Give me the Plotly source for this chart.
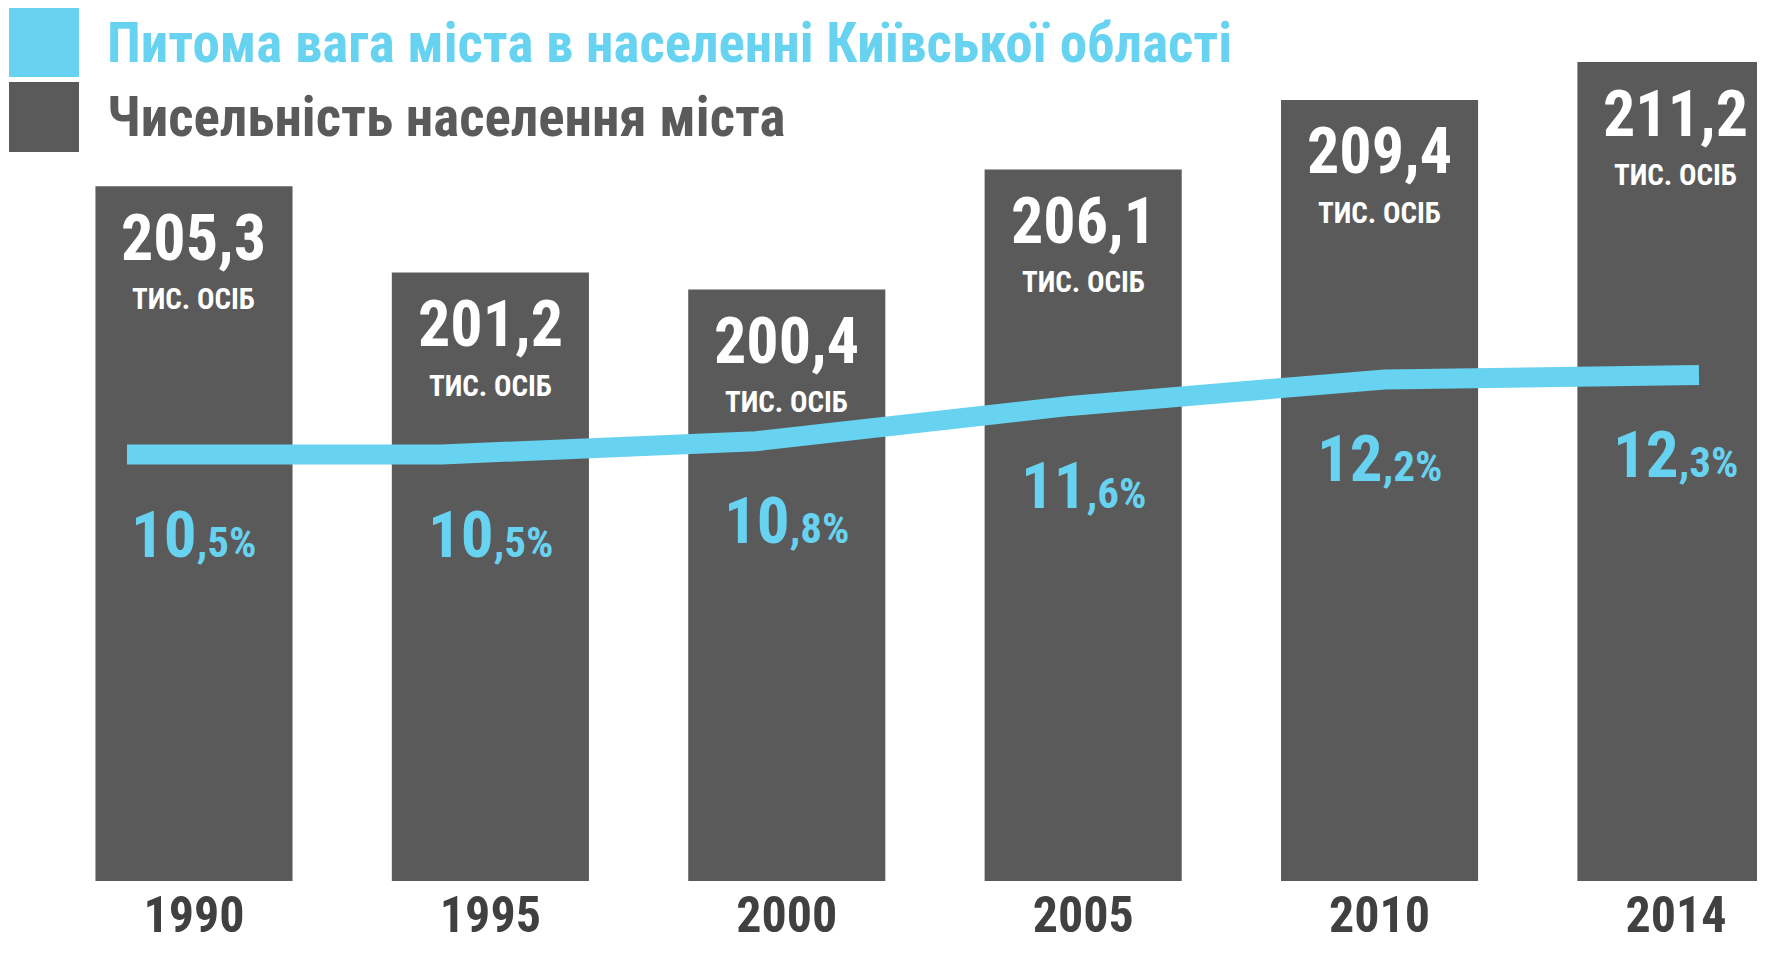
import plotly.graph_objects as go

years = ["1990", "1995", "2000", "2005", "2010", "2014"]
population = [205.3, 201.2, 200.4, 206.1, 209.4, 211.2]      # тис. осіб
share = [10.5, 10.5, 10.8, 11.6, 12.2, 12.3]                 # %
pop_labels = ["205,3", "201,2", "200,4", "206,1", "209,4", "211,2"]
share_int = ["10", "10", "10", "11", "12", "12"]
share_dec = [",5%", ",5%", ",8%", ",6%", ",2%", ",3%"]
unit_label = "ТИС. ОСІБ"
series_share = "Питома вага міста в населенні Київської області"
series_pop = "Чисельність населення міста"

# the page adds an 8px body margin, so the figure is sized to fit inside the window
W, H = 1749, 938
PLOT_H = 873
CYAN = "#67D3F0"
DARK = "#5A5A5A"
FONT = "Roboto Condensed, Liberation Sans Narrow, Roboto, sans-serif"

fig = go.Figure()
fig.add_trace(go.Bar(x=years, y=population, marker=dict(color=DARK, line=dict(width=0)),
                     width=0.665, name=series_pop, xaxis="x", yaxis="y", hoverinfo="skip"))
fig.add_trace(go.Scatter(x=years, y=share, mode="lines", line=dict(color=CYAN, width=20),
                         name=series_share, xaxis="x2", yaxis="y2", hoverinfo="skip"))

ann = []
for i, (v, lab) in enumerate(zip(population, pop_labels)):
    ann.append(dict(x=i, y=v, xref="x", yref="y", text="<b>%s</b>" % lab, showarrow=False,
                    yanchor="middle", yshift=-52,
                    font=dict(family=FONT, size=64, color="white")))
    ann.append(dict(x=i, y=v, xref="x", yref="y", text="<b>%s</b>" % unit_label, showarrow=False,
                    yanchor="middle", yshift=-113,
                    font=dict(family=FONT, size=29, color="white")))
for i, (s, a, b) in enumerate(zip(share, share_int, share_dec)):
    ann.append(dict(x=i, y=s, xref="x", yref="y2",
                    text="<b>%s<span style='font-size:43px'>%s</span></b>" % (a, b),
                    showarrow=False, yanchor="middle", yshift=-80,
                    font=dict(family=FONT, size=65, color=CYAN)))

ann.append(dict(x=97 / W, y=(PLOT_H - 35) / PLOT_H, xref="paper", yref="paper", xanchor="left",
                yanchor="middle", text="<b>%s</b>" % series_share, showarrow=False,
                font=dict(family=FONT, size=55, color=CYAN)))
ann.append(dict(x=97 / W, y=(PLOT_H - 109) / PLOT_H, xref="paper", yref="paper", xanchor="left",
                yanchor="middle", text="<b>%s</b>" % series_pop, showarrow=False,
                font=dict(family=FONT, size=55, color=DARK)))

shapes = [
    dict(type="rect", xref="paper", yref="paper", x0=1 / W, x1=71 / W,
         y0=(PLOT_H - 69) / PLOT_H, y1=1, fillcolor=CYAN, line=dict(width=0)),
    dict(type="rect", xref="paper", yref="paper", x0=1 / W, x1=71 / W,
         y0=(PLOT_H - 144) / PLOT_H, y1=(PLOT_H - 74) / PLOT_H, fillcolor=DARK, line=dict(width=0)),
]

fig.update_layout(
    width=W, height=H,
    margin=dict(l=0, r=0, t=0, b=H - PLOT_H, pad=0, autoexpand=False),
    paper_bgcolor="white", plot_bgcolor="white",
    showlegend=False,
    annotations=ann, shapes=shapes,
    xaxis=dict(type="category", range=[-0.6275, 5.2735], showgrid=False, zeroline=False,
               showline=False, ticks="", ticklabelstandoff=0, automargin=False,
               tickfont=dict(family=FONT, size=50, color="#404040", weight="bold")),
    xaxis2=dict(type="category", range=[-0.3785, 5.1845], overlaying="x", visible=False,
                automargin=False),
    yaxis=dict(range=[172.3, 213.77], visible=False, showgrid=False, automargin=False),
    yaxis2=dict(range=[0.844, 20.609], overlaying="y", visible=False, showgrid=False,
                automargin=False),
)

fig.write_html("out.html")
